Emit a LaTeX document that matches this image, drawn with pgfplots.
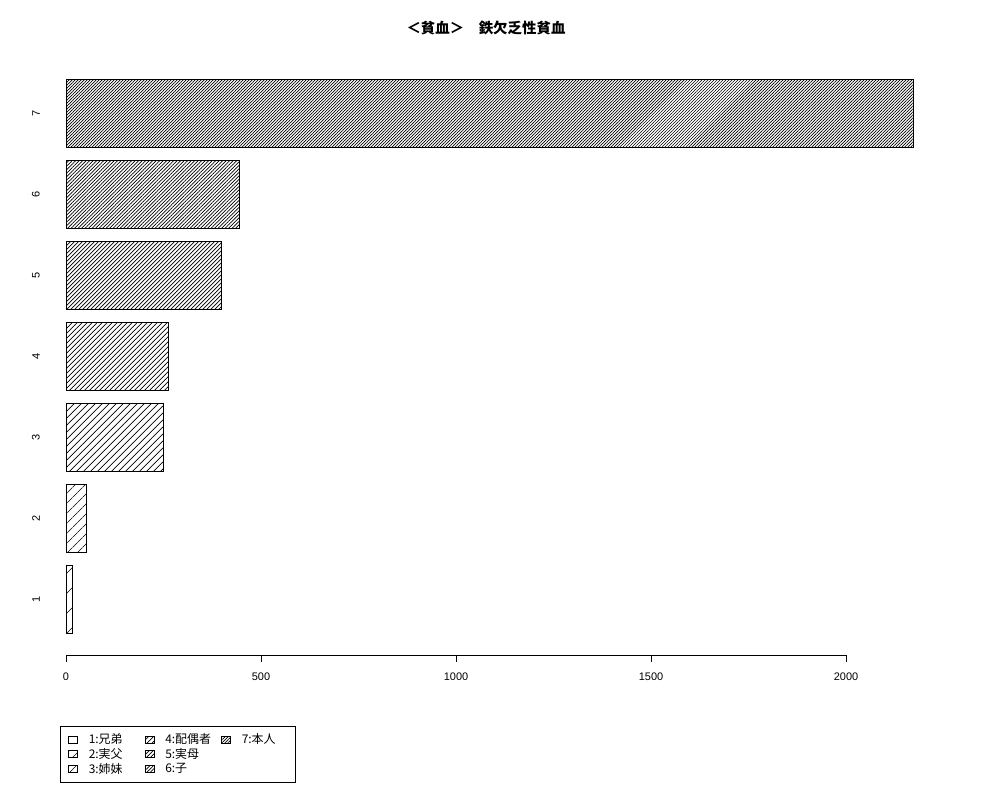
\documentclass[border=0pt]{standalone}
\usepackage{pgfplots}
\pgfplotsset{compat=1.18}
\usetikzlibrary{patterns.meta}
\usepackage{fontspec}
\setmainfont{Liberation Sans}
\newfontfamily\cjk{Noto Sans CJK JP}

% R hatch densities, one per category (distance = horizontal period / sqrt 2)
\tikzset{
  h1/.style={pattern={Lines[angle=45,distance=14.142bp,line width=0.7bp]}},
  h2/.style={pattern={Lines[angle=45,distance=7.071bp,line width=0.7bp]}},
  h3/.style={pattern={Lines[angle=45,distance=4.950bp,line width=0.7bp]}},
  h4/.style={pattern={Lines[angle=45,distance=3.536bp,line width=0.7bp]}},
  h5/.style={pattern={Lines[angle=45,distance=2.828bp,line width=0.7bp]}},
  h6/.style={pattern={Lines[angle=45,distance=2.475bp,line width=0.7bp]}},
  h7/.style={pattern={Lines[angle=45,distance=2.121bp,line width=0.7bp]}},
  bar/.style={xbar, bar width=1, bar shift=0, draw=black, line width=0.5bp},
}

\begin{document}
\begin{tikzpicture}
  \path[use as bounding box] (0,0) rectangle (1000bp,800bp);
  \node[font=\fontsize{14.5}{16}\selectfont\cjk\bfseries] at (486bp,772bp) {＜貧血＞　鉄欠乏性貧血};
  \begin{axis}[
    at={(66bp,144.9bp)}, anchor=south west,
    scale only axis,
    width=780bp, height=575.6bp,
    xmin=0, xmax=2000,
    ymin=-0.128, ymax=8.4,
    clip=false,
    axis x line*=bottom, axis y line*=left,
    y axis line style={draw=none},
    x axis line style={line width=0.6bp},
    xtick={0,500,1000,1500,2000},
    ytick={0.7,1.9,3.1,4.3,5.5,6.7,7.9},
    yticklabels={1,2,3,4,5,6,7},
    major y tick style={draw=none},
    major x tick style={black,line width=0.6bp},
    tick align=outside,
    major tick length=7bp,
    /pgf/number format/assume math mode=true,
    /pgf/number format/1000 sep={},
    ticklabel style={font=\fontsize{11}{13}\selectfont},
    xticklabel style={yshift=-7bp},
    yticklabel style={xshift=-19bp, rotate=90, anchor=south, inner sep=0pt},
    legend style={
      at={(0,0)}, anchor=north west, xshift=-6bp, yshift=-70.9bp,
      draw=black, line width=0.5bp,
      font=\fontsize{12}{14}\selectfont\cjk,
      inner xsep=8bp, inner ysep=5.5bp,
      row sep=-0.8bp,
      nodes={text width=40bp, align=left, inner xsep=5bp},
      /tikz/every odd column/.append style={column sep=6bp},
      /tikz/every even column/.append style={column sep=11bp},
    },
    legend columns=3,
    legend cell align=left,
    legend image code/.code={\draw[#1,draw=black,line width=0.5bp] (0bp,-3.5bp) rectangle (9bp,3.5bp);},
  ]
    \addplot[bar, h1, forget plot] coordinates {(15,0.7)};
    \addplot[bar, h2, forget plot] coordinates {(53,1.9)};
    \addplot[bar, h3, forget plot] coordinates {(250,3.1)};
    \addplot[bar, h4, forget plot] coordinates {(263,4.3)};
    \addplot[bar, h5, forget plot] coordinates {(399,5.5)};
    \addplot[bar, h6, forget plot] coordinates {(444,6.7)};
    \addplot[bar, h7, forget plot] coordinates {(2173,7.9)};
    % legend filled column by column, as R does
    \addlegendimage{h1}\addlegendentry{1:兄弟}
    \addlegendimage{h4}\addlegendentry{4:配偶者}
    \addlegendimage{h7}\addlegendentry{7:本人}
    \addlegendimage{h2}\addlegendentry{2:実父}
    \addlegendimage{h5}\addlegendentry{5:実母}
    \addlegendimage{empty legend}\addlegendentry{}
    \addlegendimage{h3}\addlegendentry{3:姉妹}
    \addlegendimage{h6}\addlegendentry{6:子}
  \end{axis}
\end{tikzpicture}
\end{document}
